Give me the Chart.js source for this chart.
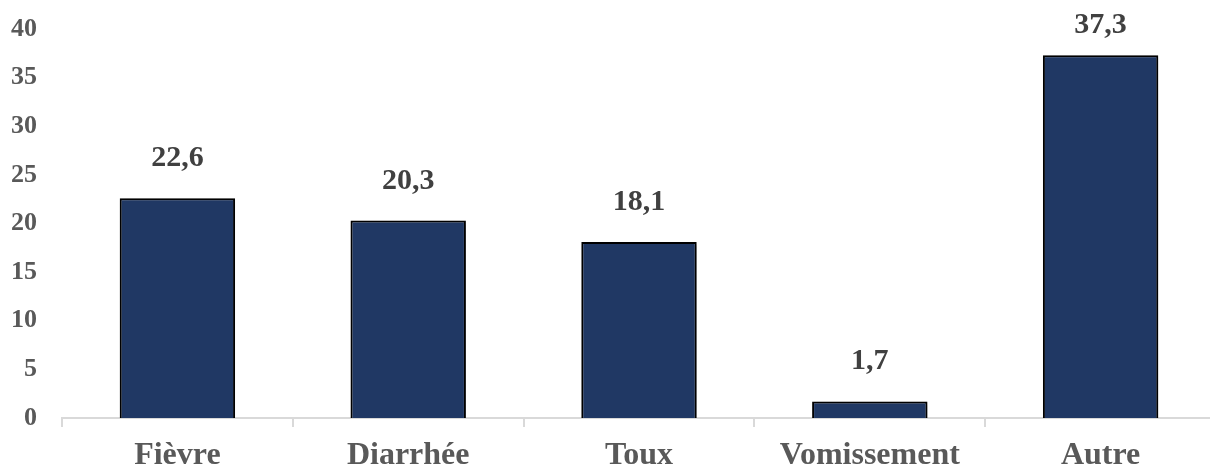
<!DOCTYPE html>
<html>
<head>
<meta charset="utf-8">
<script src="https://cdn.jsdelivr.net/npm/chart.js@4"></script>
<style>
  html, body { margin: 0; padding: 0; background: #ffffff; overflow: hidden; }
  #wrap { width: 1224px; height: 468px; position: relative; }
</style>
</head>
<body>
<div id="wrap"><canvas id="symptomChart"></canvas></div>
<script>
// Chart data
const categories = ["Fièvre", "Diarrhée", "Toux", "Vomissement", "Autre"];
const percentages = [22.6, 20.3, 18.1, 1.7, 37.3];
const yTicks = [0, 5, 10, 15, 20, 25, 30, 35, 40];

const serif = "'Liberation Serif', 'Times New Roman', serif";

// Value labels above each bar, French decimal comma (kept inside the plot area like Excel does)
const valueLabels = {
  id: "valueLabels",
  afterDatasetsDraw(chart) {
    const ctx = chart.ctx;
    const meta = chart.getDatasetMeta(0);
    ctx.save();
    ctx.font = "bold 30px " + serif;
    ctx.fillStyle = "#404040";
    ctx.textAlign = "center";
    ctx.textBaseline = "alphabetic";
    meta.data.forEach((bar, i) => {
      const txt = percentages[i].toFixed(1).replace(".", ",");
      const y = Math.max(bar.y - 32, chart.chartArea.top + 4);
      ctx.fillText(txt, bar.x, y);
    });
    ctx.restore();
  },
};

// Soft shadow behind the bars
const barShadow = {
  id: "barShadow",
  beforeDatasetsDraw(chart) {
    const ctx = chart.ctx;
    ctx.save();
    ctx.shadowColor = "rgba(0, 0, 0, 0.35)";
    ctx.shadowBlur = 5;
    ctx.shadowOffsetX = 2;
    ctx.shadowOffsetY = 2;
  },
  afterDatasetsDraw(chart) {
    chart.ctx.restore();
  },
};

const ctx = document.getElementById("symptomChart").getContext("2d");

new Chart(ctx, {
  type: "bar",
  data: {
    labels: categories,
    datasets: [
      {
        data: percentages,
        backgroundColor: "#203864",
        borderColor: "#000000",
        borderWidth: 2,
        barPercentage: 0.5,
        categoryPercentage: 1,
      },
    ],
  },
  options: {
    responsive: true,
    maintainAspectRatio: false,
    animation: false,
    layout: {
      padding: { top: 29, left: 10, right: 8, bottom: 0 },
    },
    plugins: {
      legend: { display: false },
      tooltip: { enabled: false },
    },
    scales: {
      x: {
        offset: true,
        afterFit(axis) {
          axis.height = 50;
        },
        grid: {
          display: true,
          drawOnChartArea: false,
          drawTicks: true,
          tickLength: 9,
          color: "#d9d9d9",
          lineWidth: 2,
        },
        border: { display: true, color: "#d9d9d9", width: 2 },
        ticks: {
          color: "#595959",
          padding: 10,
          font: { family: serif, size: 32, weight: "bold" },
          maxRotation: 0,
          autoSkip: false,
        },
      },
      y: {
        min: 0,
        max: 40,
        afterBuildTicks(axis) {
          axis.ticks = yTicks.map((v) => ({ value: v }));
        },
        afterFit(axis) {
          axis.width = 52;
          axis.paddingTop = 0;
          axis.paddingBottom = 0;
        },
        grid: { display: false, drawTicks: false },
        border: { display: false },
        ticks: {
          color: "#595959",
          padding: 25,
          font: { family: serif, size: 26, weight: "bold" },
        },
      },
    },
  },
  plugins: [barShadow, valueLabels],
});
</script>
</body>
</html>
